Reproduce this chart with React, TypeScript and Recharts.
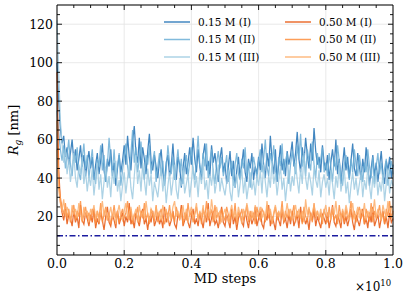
import React from 'react';
import {
  LineChart,
  Line,
  XAxis,
  YAxis,
  CartesianGrid,
  ReferenceLine
} from 'recharts';

// Ticks
const xTicks = [0, 0.2, 0.4, 0.6, 0.8, 1.0];
const yTicks = [20, 40, 60, 80, 100, 120];
const xMinorTicks = [0.05, 0.1, 0.15, 0.25, 0.3, 0.35, 0.45, 0.5, 0.55, 0.65, 0.7, 0.75, 0.85, 0.9, 0.95];
const yMinorTicks = [5, 10, 15, 25, 30, 35, 45, 50, 55, 65, 70, 75, 85, 90, 95, 105, 110, 115, 125];

// Rg [nm], one sample every 0.005 x 10^10 MD steps
const rgLow1 = [
  100, 80, 66, 58, 62, 51, 56, 47, 53, 60, 49, 55, 44, 50, 57, 46, 52, 41, 48, 54,
  45, 51, 39, 47, 53, 42, 49, 58, 44, 38, 50, 46, 55, 41, 48, 36, 45, 52, 43, 49,
  57, 47, 62, 51, 44, 59, 67, 53, 48, 61, 45, 56, 50, 42, 54, 63, 49, 44, 52, 46,
  40, 49, 55, 43, 37, 48, 52, 41, 46, 58, 44, 39, 51, 47, 35, 45, 53, 42, 48, 56,
  47, 61, 50, 43, 55, 46, 39, 52, 58, 44, 49, 41, 57, 48, 53, 45, 38, 50, 56, 43,
  48, 37, 46, 54, 41, 49, 35, 44, 51, 40, 47, 55, 43, 38, 50, 45, 53, 39, 46, 42,
  51, 44, 58, 47, 40, 53, 46, 62, 49, 42, 55, 38, 48, 57, 44, 50, 41, 54, 47, 52,
  59, 46, 53, 64, 50, 43, 56, 48, 61, 52, 45, 58, 49, 66, 54, 47, 51, 43, 57, 48,
  44, 52, 39, 48, 55, 46, 60, 42, 50, 37, 47, 56, 44, 51, 40, 49, 58, 45, 41, 53,
  46, 39, 50, 43, 56, 47, 36, 45, 52, 41, 48, 38, 46, 54, 42, 37, 49, 44, 51, 40,
  47
];
const rgLow2 = [
  75, 64, 55, 49, 57, 45, 52, 60, 47, 41, 53, 48, 56, 43, 39, 50, 58, 45, 52, 40,
  48, 55, 42, 37, 50, 46, 57, 44, 52, 38, 47, 61, 49, 43, 55, 40, 46, 53, 36, 44,
  51, 58, 46, 40, 53, 65, 48, 56, 43, 50, 59, 45, 39, 52, 47, 57, 42, 49, 54, 38,
  46, 53, 41, 49, 36, 44, 57, 48, 42, 51, 39, 47, 55, 43, 50, 37, 46, 52, 41, 48,
  56, 44, 39, 50, 62, 47, 42, 53, 46, 58, 40, 49, 55, 43, 37, 48, 54, 45, 51, 41,
  46, 52, 38, 44, 49, 36, 47, 53, 42, 39, 50, 45, 56, 41, 48, 35, 44, 51, 46, 40,
  49, 55, 43, 50, 60, 46, 41, 53, 48, 57, 44, 39, 51, 46, 58, 42, 49, 53, 37, 47,
  54, 48, 42, 57, 50, 63, 46, 52, 41, 55, 49, 44, 59, 47, 40, 53, 45, 50, 56, 43,
  48, 41, 53, 46, 38, 51, 44, 57, 49, 42, 36, 47, 52, 45, 39, 50, 43, 55, 47, 41,
  52, 45, 38, 48, 43, 55, 46, 40, 51, 37, 46, 53, 42, 48, 39, 45, 50, 36, 44, 49,
  42
];
const rgLow3 = [
  122, 95, 70, 58, 48, 55, 42, 50, 38, 46, 53, 40, 35, 47, 42, 51, 37, 44, 33, 41,
  36, 45, 31, 40, 48, 34, 42, 29, 38, 46, 35, 41, 30, 44, 37, 49, 33, 39, 28, 36,
  43, 32, 40, 47, 35, 29, 41, 52, 37, 44, 33, 48, 39, 31, 45, 36, 42, 28, 38, 34,
  30, 39, 45, 33, 41, 27, 36, 43, 31, 38, 47, 34, 29, 40, 36, 44, 32, 37, 42, 30,
  38, 46, 35, 41, 30, 43, 37, 50, 34, 39, 29, 42, 36, 45, 32, 38, 47, 33, 40, 35,
  31, 38, 44, 33, 28, 39, 35, 42, 30, 37, 45, 32, 40, 29, 36, 43, 34, 39, 31, 41,
  36, 44, 32, 47, 38, 30, 41, 35, 49, 37, 42, 31, 39, 46, 34, 40, 28, 37, 44, 33,
  41, 36, 48, 39, 32, 45, 37, 53, 40, 34, 43, 38, 31, 46, 39, 35, 44, 30, 38, 42,
  35, 40, 31, 44, 37, 29, 41, 35, 48, 33, 39, 45, 32, 38, 27, 36, 43, 34, 40, 31,
  37, 43, 30, 39, 34, 46, 36, 29, 41, 35, 44, 31, 38, 33, 42, 28, 37, 45, 32, 39,
  36
];
const rgHigh1 = [
  95, 45, 28, 22, 18, 24, 16, 21, 19, 15, 23, 17, 20, 14, 26, 18, 16, 22, 19, 15,
  21, 17, 24, 14, 19, 16, 22, 18, 13, 20, 25, 17, 15, 21, 18, 14, 23, 16, 19, 22,
  15, 20, 17, 27, 16, 19, 14, 22, 18, 15, 21, 24, 16, 19, 13, 20, 17, 23, 15, 18,
  22, 16, 19, 14, 25, 17, 20, 15, 18, 23, 16, 14, 21, 19, 26, 15, 18, 22, 17, 14,
  20, 24, 16, 19, 15, 22, 18, 14, 21, 17, 27, 15, 19, 23, 16, 18, 14, 20, 25, 17,
  15, 21, 18, 14, 24, 16, 20, 13, 19, 22, 17, 15, 23, 18, 14, 21, 16, 19, 25, 15,
  19, 23, 16, 14, 21, 18, 26, 15, 20, 17, 13, 22, 18, 15, 24, 17, 19, 14, 21, 16,
  23, 15, 18, 21, 14, 25, 17, 20, 16, 19, 13, 22, 18, 24, 15, 20, 17, 14, 21, 19,
  16, 22, 14, 19, 26, 17, 15, 21, 18, 14, 23, 16, 20, 15, 19, 24, 17, 13, 21, 18,
  15, 20, 24, 16, 19, 14, 22, 17, 25, 15, 18, 21, 14, 19, 23, 16, 20, 14, 22, 17,
  19
];
const rgHigh2 = [
  70, 38, 30, 25, 21, 27, 19, 24, 17, 22, 26, 18, 23, 20, 28, 17, 21, 25, 19, 22,
  18, 24, 20, 16, 23, 19, 27, 17, 21, 25, 18, 22, 16, 20, 26, 19, 23, 17, 21, 24,
  19, 22, 28, 18, 24, 16, 21, 20, 25, 17, 23, 19, 27, 18, 22, 16, 24, 20, 18, 26,
  17, 21, 24, 19, 16, 23, 20, 26, 18, 22, 17, 25, 21, 19, 24, 16, 22, 18, 27, 20,
  23, 17, 21, 25, 19, 22, 16, 24, 20, 28, 18, 21, 23, 17, 26, 19, 22, 16, 24, 20,
  18, 25, 21, 17, 23, 19, 27, 16, 22, 20, 24, 18, 21, 26, 17, 23, 19, 22, 16, 25,
  20, 18, 24, 22, 17, 26, 19, 23, 16, 21, 25, 18, 22, 20, 28, 17, 23, 19, 24, 18,
  21, 26, 17, 23, 19, 22, 16, 25, 20, 18, 24, 21, 17, 27, 19, 23, 18, 22, 16, 24,
  20, 17, 25, 19, 23, 18, 21, 16, 26, 20, 22, 17, 24, 19, 21, 28, 18, 23, 17, 22,
  25, 19, 22, 16, 24, 20, 18, 27, 17, 23, 19, 21, 26, 18, 22, 16, 24, 20, 28, 19,
  23
];
const rgHigh3 = [
  55, 34, 27, 23, 29, 20, 25, 22, 18, 26, 21, 24, 19, 27, 22, 18, 25, 20, 23, 17,
  24, 21, 26, 19, 23, 17, 22, 28, 20, 24, 18, 21, 25, 19, 23, 16, 22, 26, 20, 18,
  23, 27, 19, 22, 25, 18, 21, 24, 17, 26, 20, 23, 19, 28, 21, 18, 24, 22, 19, 25,
  20, 23, 18, 26, 21, 24, 17, 22, 19, 25, 28, 20, 23, 18, 21, 26, 19, 24, 17, 22,
  25, 19, 22, 27, 18, 23, 20, 26, 17, 21, 24, 19, 29, 22, 18, 25, 20, 23, 17, 21,
  24, 20, 17, 22, 26, 19, 23, 18, 25, 21, 16, 24, 20, 27, 22, 18, 23, 19, 26, 20,
  22, 25, 19, 23, 18, 28, 21, 24, 17, 22, 26, 20, 23, 19, 25, 18, 21, 27, 20, 24,
  18, 22, 26, 20, 24, 19, 23, 17, 29, 21, 25, 18, 22, 26, 20, 23, 19, 24, 18, 22,
  26, 20, 23, 18, 25, 21, 28, 19, 22, 17, 24, 20, 26, 22, 18, 23, 27, 19, 21, 25,
  19, 24, 21, 27, 18, 23, 20, 25, 22, 29, 19, 24, 21, 18, 26, 22, 20, 28, 23, 25,
  21
];
const referenceRg = 10;

const series = [
  { key: 'low1', name: '0.15 M (I)', color: '#2171b5', values: rgLow1 },
  { key: 'low2', name: '0.15 M (II)', color: '#6baed6', values: rgLow2 },
  { key: 'low3', name: '0.15 M (III)', color: '#9ecae1', values: rgLow3 },
  { key: 'high1', name: '0.50 M (I)', color: '#e6550d', values: rgHigh1 },
  { key: 'high2', name: '0.50 M (II)', color: '#fd8d3c', values: rgHigh2 },
  { key: 'high3', name: '0.50 M (III)', color: '#fdae6b', values: rgHigh3 }
];

const data = rgLow1.map((_, i) => {
  const row: Record<string, number> = { step: i / 200 };
  series.forEach(s => { row[s.key] = s.values[i]; });
  return row;
});

const FONT = '"DejaVu Serif", serif';
const W = 408;
const H = 299;

// inward tick lengths in data units (plot: 336 x 250 px)
const xPx = 1 / 336;
const yPx = 130 / 250;

const App = () => {
  const tickSegs: React.ReactNode[] = [];
  const addX = (t: number, len: number, k: string) => {
    tickSegs.push(<ReferenceLine key={'xb' + k} segment={[{ x: t, y: 0 }, { x: t, y: len * yPx }]} stroke="#000" strokeWidth={0.9} />);
    tickSegs.push(<ReferenceLine key={'xt' + k} segment={[{ x: t, y: 130 }, { x: t, y: 130 - len * yPx }]} stroke="#000" strokeWidth={0.9} />);
  };
  const addY = (t: number, len: number, k: string) => {
    tickSegs.push(<ReferenceLine key={'yl' + k} segment={[{ x: 0, y: t }, { x: len * xPx, y: t }]} stroke="#000" strokeWidth={0.9} />);
    tickSegs.push(<ReferenceLine key={'yr' + k} segment={[{ x: 1, y: t }, { x: 1 - len * xPx, y: t }]} stroke="#000" strokeWidth={0.9} />);
  };
  xTicks.slice(1, -1).forEach((t, i) => addX(t, 5, 'M' + i));
  xMinorTicks.forEach((t, i) => addX(t, 3, 'm' + i));
  yTicks.forEach((t, i) => addY(t, 5, 'M' + i));
  yMinorTicks.forEach((t, i) => addY(t, 3, 'm' + i));

  return (
    <div style={{ position: 'absolute', left: 0, top: 0, width: W, height: H, background: '#fff' }}>
      <LineChart
        width={W}
        height={H}
        data={data}
        margin={{ top: 5, right: 15, bottom: 0, left: 0 }}
      >
        <CartesianGrid stroke="#e3e3e3" strokeWidth={0.8} />
        <XAxis
          dataKey="step"
          type="number"
          domain={[0, 1]}
          ticks={xTicks}
          tickFormatter={(v: number) => v.toFixed(1)}
          height={44}
          tickLine={false}
          tickSize={4}
          tickMargin={0}
          axisLine={{ stroke: '#000', strokeWidth: 1 }}
          tick={{ fill: '#000', fontSize: 12.5, fontFamily: FONT }}
        />
        <YAxis
          type="number"
          domain={[0, 130]}
          ticks={yTicks}
          allowDataOverflow
          width={57}
          tickLine={false}
          tickSize={2}
          tickMargin={2}
          axisLine={{ stroke: '#000', strokeWidth: 1 }}
          tick={{ fill: '#000', fontSize: 12.5, fontFamily: FONT }}
        />
        {series.map(s => (
          <Line
            key={s.key}
            dataKey={s.key}
            name={s.name}
            type="linear"
            stroke={s.color}
            strokeOpacity={0.85}
            strokeWidth={1.25}
            dot={false}
            isAnimationActive={false}
          />
        ))}
        <ReferenceLine
          y={referenceRg}
          stroke="#1c1ca0"
          strokeWidth={1.6}
          strokeDasharray="6 2.5 1.5 2.5"
        />
        <ReferenceLine y={130} stroke="#000" strokeWidth={1} />
        <ReferenceLine x={1} stroke="#000" strokeWidth={1} />
        {tickSegs}
      </LineChart>

      {/* labels */}
      <svg width={W} height={H} style={{ position: 'absolute', left: 0, top: 0, pointerEvents: 'none' }}>
        <text
          x={0}
          y={0}
          transform="translate(18,130) rotate(-90)"
          textAnchor="middle"
          fontFamily={FONT}
          fontSize={13}
          fill="#000"
        >
          <tspan fontStyle="italic">R</tspan>
          <tspan fontStyle="italic" fontSize={9} dy={3}>g</tspan>
          <tspan dy={-3}> [nm]</tspan>
        </text>
        <text x={225} y={283} textAnchor="middle" fontFamily={FONT} fontSize={13} fill="#000">
          MD steps
        </text>
        <text x={355} y={291} fontFamily={FONT} fontSize={12} fill="#000">
          ×10<tspan fontSize={8.5} dy={-5}>10</tspan>
        </text>
        {series.map((s, i) => {
          const col = i < 3 ? 0 : 1;
          const row = i % 3;
          const x0 = col === 0 ? 164 : 285;
          const y0 = 22 + row * 17.5;
          return (
            <g key={s.key}>
              <line x1={x0} x2={x0 + 26} y1={y0} y2={y0} stroke={s.color} strokeOpacity={0.85} strokeWidth={1.5} />
              <text x={x0 + 34} y={y0 + 3.8} fontFamily={FONT} fontSize={10.5} fill="#000">
                {s.name}
              </text>
            </g>
          );
        })}
      </svg>
    </div>
  );
};

export default App;
